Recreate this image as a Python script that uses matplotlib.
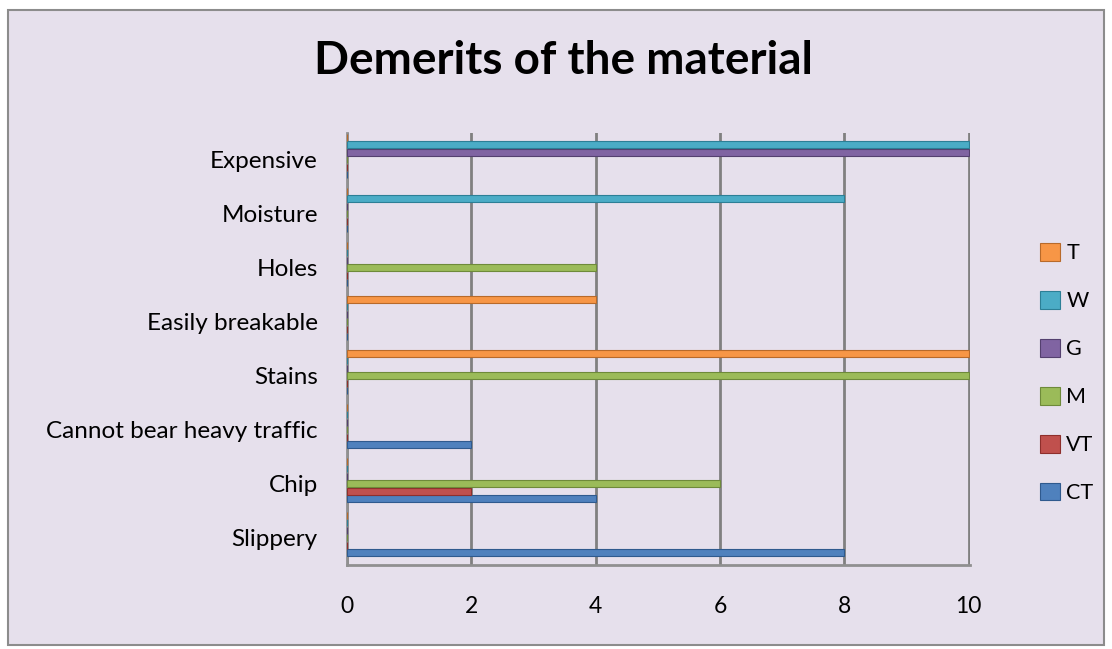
import matplotlib
matplotlib.use("Agg")
import matplotlib.pyplot as plt
import numpy as np
from matplotlib.patches import Rectangle

categories = ["Slippery", "Chip", "Cannot bear heavy traffic", "Stains",
              "Easily breakable", "Holes", "Moisture", "Expensive"]
series_names = ["CT", "VT", "M", "G", "W", "T"]
CT = [8, 4, 2, 0, 0, 0, 0, 0]
VT = [0, 2, 0, 0, 0, 0, 0, 0]
M = [0, 6, 0, 10, 0, 4, 0, 0]
G = [0, 0, 0, 0, 0, 0, 0, 10]
W = [0, 0, 0, 0, 0, 0, 8, 10]
T = [0, 0, 0, 10, 4, 0, 0, 0]
series_values = [CT, VT, M, G, W, T]
colors = ["#4F81BD", "#C0504D", "#9BBB59", "#8064A2", "#4BACC6", "#F79646"]
edges = ["#2F5A8E", "#8E2F2C", "#6E8A3A", "#54406F", "#2C7F96", "#B86A2A"]
xticks = [0, 2, 4, 6, 8, 10]

plt.rcParams['font.family'] = ['Lato', 'DejaVu Sans']

fig = plt.figure(figsize=(11.12, 6.49), dpi=100)
fig.patch.set_facecolor("white")
bg = Rectangle((8 / 1112, 1 - 645 / 649), (1104 - 8) / 1112, (645 - 10) / 649,
               transform=fig.transFigure, facecolor="#E6E0EC", edgecolor="#8C8C8C",
               linewidth=1.5, zorder=-10)
fig.add_artist(bg)

ax = fig.add_axes([347 / 1112, 1 - 565 / 649, (970 - 347) / 1112, (565 - 133) / 649])
ax.set_zorder(1)
ax.set_facecolor("none")

y = np.arange(len(categories))
bh = 0.13
for k, (name, vals) in enumerate(zip(series_names, series_values)):
    off = -0.27 + k * 0.139
    ax.barh(y + off, vals, height=bh, color=colors[k], edgecolor=edges[k],
            linewidth=0.8, label=name, zorder=3)

ax.set_xlim(0, 10.02)
ax.set_ylim(-0.5, 7.5)
ax.set_xticks(xticks)
ax.set_xticklabels([str(t) for t in xticks], fontsize=16.5)
ax.set_yticks(y)
ax.set_yticklabels(categories, fontsize=17.5)
ax.tick_params(axis='x', length=0, pad=22)
ax.tick_params(axis='y', length=0, pad=21)
ax.grid(axis='x', color="#808080", linewidth=2, zorder=1)
for s in ["top", "right"]:
    ax.spines[s].set_visible(False)
for s in ["left", "bottom"]:
    ax.spines[s].set_color("#909090")
    ax.spines[s].set_linewidth(2)

fig.text(563 / 1112, 1 - 61 / 649, "Demerits of the material", fontsize=33,
         fontweight="bold", ha="center", va="center")

h, l = ax.get_legend_handles_labels()
leg = fig.legend(h[::-1], l[::-1], loc="center left", bbox_to_anchor=(1021 / 1112, 1 - 373 / 649),
                 frameon=False, fontsize=15.5, labelspacing=1.28, handlelength=0.9,
                 handleheight=0.9, handletextpad=0.3)

fig.savefig("out.png", dpi=100)
